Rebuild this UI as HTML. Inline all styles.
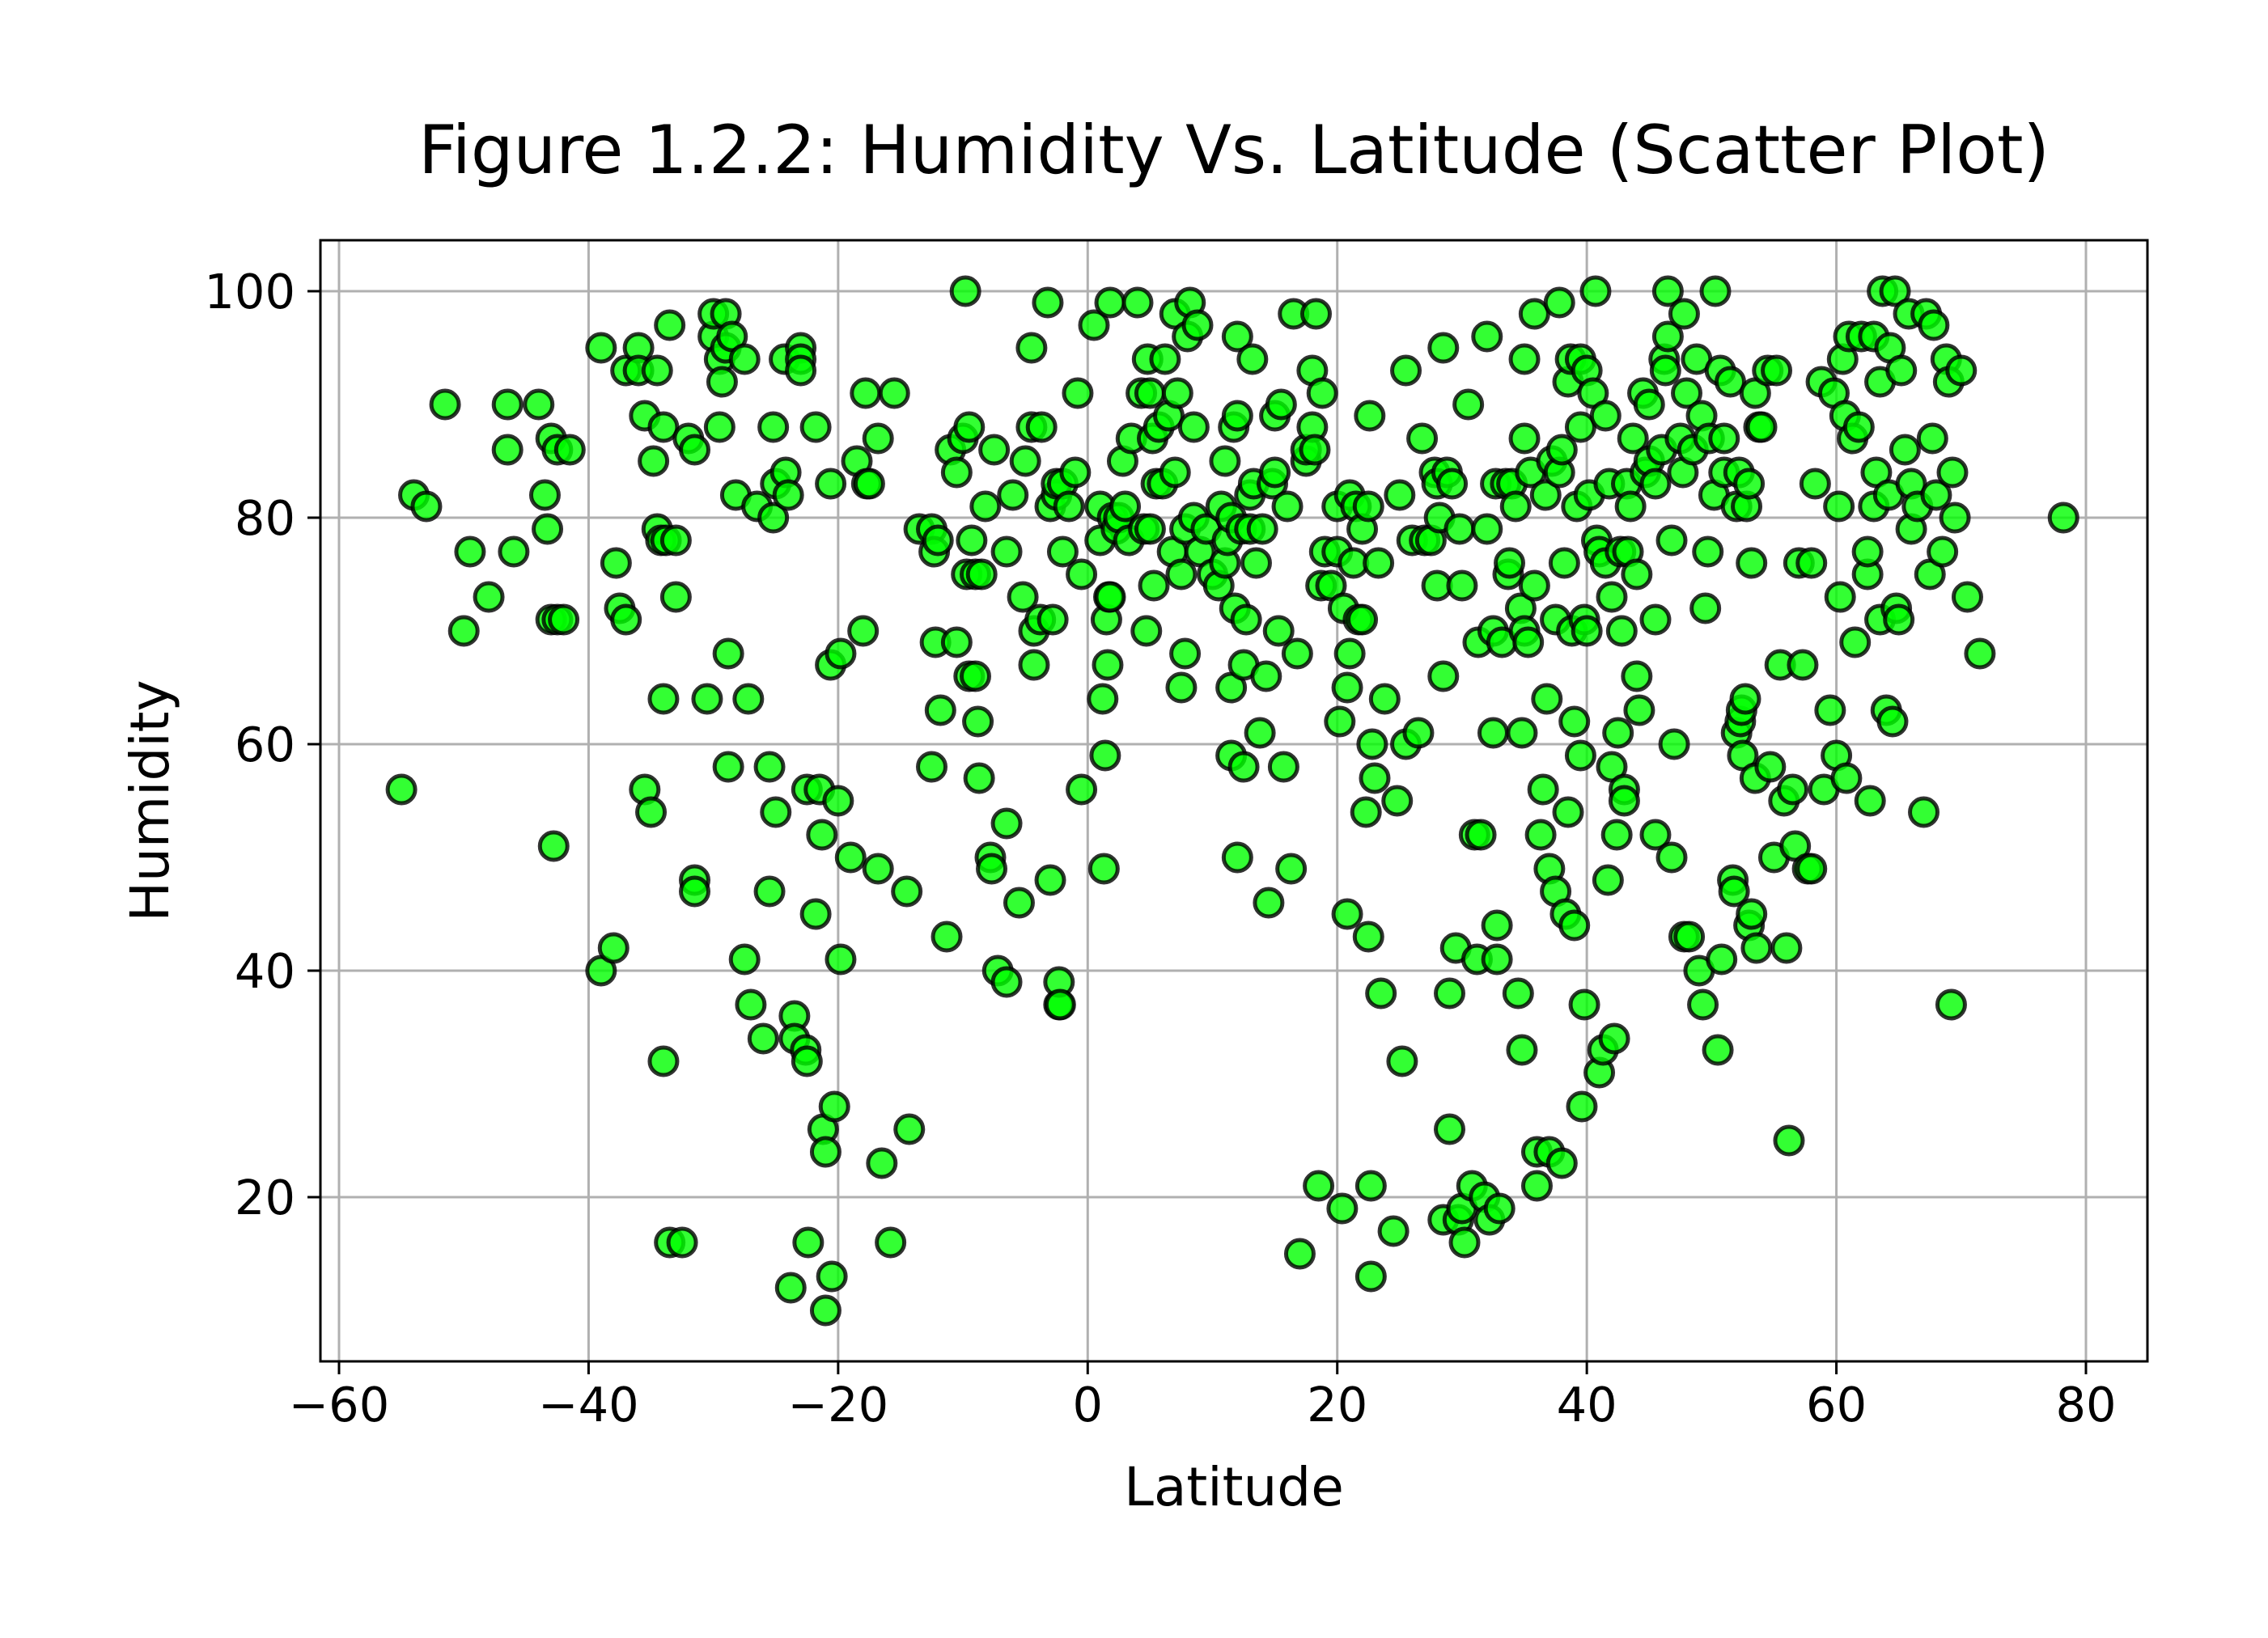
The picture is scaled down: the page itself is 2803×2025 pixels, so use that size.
<!DOCTYPE html>
<html><head><meta charset="utf-8">
<style>
html,body{margin:0;padding:0;background:#fff;}
svg{display:block;}
text{font-family:"DejaVu Sans","Liberation Sans",sans-serif;fill:#000;}
</style></head>
<body>
<svg id="chart" width="2803" height="2025" viewBox="0 0 2803 2025" xmlns="http://www.w3.org/2000/svg">
<rect width="2803" height="2025" fill="#fff"/>
<text x="1525" y="214" font-size="83" text-anchor="middle">Figure 1.2.2: Humidity Vs. Latitude (Scatter Plot)</text>
<g id="grid"></g>
<g id="points"></g>
<rect x="396" y="297" width="2258" height="1386" fill="none" stroke="#000" stroke-width="3"/>
<g id="ticks"></g>
<text x="1525" y="1861" font-size="66" text-anchor="middle">Latitude</text>
<text x="208" y="990" font-size="66" text-anchor="middle" transform="rotate(-90 208 990)">Humidity</text>
</svg>
<script>
const xTicks=[-60,-40,-20,0,20,40,60,80];
const yTicks=[20,40,60,80,100];
const lats=[-55,-54,-53,-51.5,-50,-49.5,-48,-46.5,-46.5,-46,-44,-43.5,-43.3,-43,-43,-42.5,-42.5,-42,-42.8,-41.5,-39,-39,-38,-37.8,-37.5,-37,-37,-36,-36,-35.5,-35.5,-35,-34.8,-34.5,-34.5,-34.2,-34,-34,-34,-33.8,-33.5,-33.5,-33,-33,-32.5,-32,-31.5,-31.5,-31.5,-30.5,-30,-30,-29.5,-29.5,-29.3,-29,-29,-28.8,-28.8,-28.5,-28.2,-27.5,-27.5,-27.2,-27,-26.5,-26,-25.5,-25.5,-25.2,-25.2,-25,-25,-24.3,-24.2,-24,-23.8,-23.5,-23.5,-23,-23,-23,-22.6,-22.5,-22.5,-22.4,-21.8,-21.8,-21.5,-21.3,-21.2,-21,-21,-20.6,-20.6,-20.5,-20.3,-20,-19.8,-19.8,-19,-18.5,-18,-17.8,-17.7,-17.5,-16.8,-16.8,-16.5,-15.8,-15.5,-14.5,-14.3,-13.5,-12.5,-12.5,-12.3,-12.2,-12,-11.8,-11.3,-11,-10.5,-10.5,-10,-9.8,-9.7,-9.5,-9.5,-9.3,-9,-9,-8.8,-8.7,-8.5,-8.2,-7.8,-7.7,-7.5,-7.2,-6.5,-6.5,-6.5,-6,-5.5,-5.2,-5,-4.5,-4.5,-4.3,-4.3,-3.8,-3.7,-3.2,-3,-3,-2.8,-2.5,-2.5,-2.3,-2.3,-2.2,-2,-2,-1.5,-1,-0.8,-0.5,-0.5,0.5,1,1,1.2,1.3,1.4,1.5,1.6,1.7,1.8,1.8,2,2.3,2.5,2.8,3,3.3,3.5,4,4.3,4.5,4.7,4.8,5,5,5.2,5.3,5.5,5.7,6,6.2,6.5,6.8,7,7,7.2,7.5,7.5,7.8,7.8,8,8.2,8.5,8.5,8.8,9,9.5,10,10.5,10.7,11,11,11.2,11.5,11.5,11.5,11.7,11.8,12,12,12,12.3,12.5,12.5,12.7,13,13,13.2,13.3,13.5,13.8,14,14.3,14.5,14.8,15,15,15.3,15.5,15.7,16,16.3,16.5,16.8,17,17.5,17.5,18,18,18.2,18.3,18.5,18.7,18.8,19,19.5,20,20,20.2,20.4,20.5,20.8,20.8,21,21,21.3,21.5,21.7,22,22,22.3,22.5,22.5,22.6,22.7,22.7,22.8,23,23.3,23.5,23.8,24.5,24.8,25,25.2,25.5,25.5,26,26.5,26.8,27,27.5,27.8,28,28,28.2,28.5,28.5,28.5,28.8,29,29,29.2,29.5,29.7,29.8,30,30,30.2,30.5,30.8,31,31.2,31.3,31.5,31.8,32,32,32.2,32.5,32.5,32.7,32.8,32.8,33,33.2,33.5,33.7,33.8,34,34.3,34.5,34.7,34.8,34.8,35,35,35,35.3,35.5,35.8,35.8,36,36,36.3,36.5,36.7,36.8,37,37,37.2,37.5,37.5,37.8,37.8,38,38,38.2,38.3,38.5,38.5,38.7,38.8,39,39,39.2,39.5,39.5,39.5,39.6,39.8,39.8,40,40,40.2,40.5,40.7,40.8,41,41,41.3,41.5,41.5,41.7,41.8,42,42,42.2,42.4,42.5,42.7,42.8,43,43,43.2,43.3,43.5,43.7,44,44,44.2,44.5,44.7,45,45,45.5,45.5,45.5,46,46.2,46.3,46.5,46.5,46.8,46.8,47,47.5,47.7,47.8,47.8,48,48.2,48.5,48.8,49,49.2,49.3,49.5,49.7,49.8,50.2,50.3,50.5,50.7,50.8,51,51,51.5,51.7,51.8,52,52,52.2,52.3,52.4,52.5,52.7,52.8,53,53,53.2,53.2,53.5,53.5,53.6,53.8,54,54.5,54.7,55,55.2,55.5,55.8,56,56.2,56.5,56.7,57,57.3,57.7,58,58,58.3,58.8,59,59.5,59.8,60,60.2,60.3,60.5,60.7,60.8,61,61.3,61.5,61.8,62,62.5,62.5,62.7,63,63,63.2,63.5,63.5,63.7,64,64.2,64.3,64.5,64.7,64.8,65,65.2,65.5,65.8,66,66,66.5,67,67.2,67.5,67.7,67.8,68,68.5,68.8,69,69.2,69.3,69.5,70,70.5,71.5,78.2];
const humidity=[56,82,81,90,70,77,73,90,86,77,90,82,79,87,71,71,86,71,51,86,95,40,42,76,72,71,93,95,93,89,56,54,85,79,93,78,88,64,32,78,97,16,78,73,16,87,86,48,47,64,96,98,94,88,92,98,95,58,68,96,82,94,41,64,37,81,34,58,47,80,88,83,54,94,84,82,12,36,34,95,94,93,33,56,32,16,88,45,56,52,26,24,10,83,67,13,28,55,41,68,50,85,70,91,83,83,87,49,23,16,91,47,26,79,79,58,77,69,78,63,43,86,69,84,87,100,75,88,66,78,66,75,62,57,75,81,50,49,86,40,53,39,77,82,46,73,85,88,95,67,70,71,88,99,81,48,71,82,83,37,39,37,83,77,81,84,91,56,75,97,81,78,64,49,59,71,67,73,73,99,80,79,80,85,81,78,87,99,91,79,70,94,91,79,87,74,83,88,83,94,89,77,98,84,91,75,65,79,68,96,99,80,88,97,77,79,75,74,81,85,76,78,59,65,80,88,72,96,89,50,79,67,58,71,82,79,94,83,76,61,79,66,46,83,84,89,70,90,58,81,49,98,68,15,85,86,93,88,86,98,21,74,91,77,74,81,77,62,19,72,65,45,82,68,76,81,71,79,71,54,81,43,89,13,21,60,57,76,38,64,17,55,82,32,93,60,78,61,87,78,78,84,74,83,80,66,95,18,84,26,38,83,42,18,79,19,74,16,90,21,52,41,69,52,20,96,79,18,61,70,83,41,44,19,69,83,75,76,83,81,38,72,61,33,94,70,87,69,84,98,74,21,24,52,56,82,64,49,24,85,47,71,99,84,86,23,76,45,92,54,94,70,44,62,81,88,59,94,28,37,71,93,70,82,91,100,78,31,77,33,89,76,48,83,73,58,34,52,61,77,70,56,55,83,77,81,87,75,66,63,91,84,85,90,71,83,52,86,94,93,100,96,78,50,60,87,84,43,98,91,43,86,94,40,89,37,72,77,87,82,100,33,93,41,87,84,92,48,47,61,81,84,62,63,59,64,81,83,44,76,45,91,57,42,88,88,93,58,50,93,67,55,42,25,56,51,76,67,49,49,76,83,92,56,63,91,59,81,73,94,89,57,96,87,69,88,96,75,77,55,81,96,84,71,92,100,63,82,95,62,100,72,71,93,86,98,79,83,81,54,98,75,87,97,82,77,94,92,37,84,80,93,73,68,80];
const X0=419,X1=2578,XV0=-60,XV1=80;
const Y0=360,Y1=1480,YV0=100,YV1=20;
function sx(v){return X0+(v-XV0)*(X1-X0)/(XV1-XV0);}
function sy(v){return Y0+(v-YV0)*(Y1-Y0)/(YV1-YV0);}
const NS="http://www.w3.org/2000/svg";
const grid=document.getElementById('grid'),ticks=document.getElementById('ticks'),pts=document.getElementById('points');
function mk(tag,attrs,parent){const e=document.createElementNS(NS,tag);for(const k in attrs)e.setAttribute(k,attrs[k]);parent.appendChild(e);return e;}
xTicks.forEach(t=>{
  const x=sx(t);
  const g=mk('line',{x1:x,x2:x,y1:297,y2:1683,stroke:'#b0b0b0','stroke-width':3},grid);
  
  
  const tk=mk('line',{x1:x,x2:x,y1:1683,y2:1699,stroke:'#000','stroke-width':3},ticks);
  
  
  const lb=mk('text',{x:x,y:1757,'font-size':59,'text-anchor':'middle'},ticks);
  lb.textContent=(t<0?'\u2212'+Math.abs(t):String(t));
  
  
});
yTicks.forEach(t=>{
  const y=sy(t);
  const g=mk('line',{x1:396,x2:2654,y1:y,y2:y,stroke:'#b0b0b0','stroke-width':3},grid);
  
  
  const tk=mk('line',{x1:380,x2:396,y1:y,y2:y,stroke:'#000','stroke-width':3},ticks);
  
  
  const lb=mk('text',{x:365,y:y+21,'font-size':59,'text-anchor':'end'},ticks);
  lb.textContent=String(t);
  
  
});
lats.forEach((la,i)=>{
  const c=mk('circle',{cx:sx(la),cy:sy(humidity[i]),r:17,fill:'#00ff00','fill-opacity':0.8,stroke:'#000','stroke-opacity':0.8,'stroke-width':5},pts);
  
  
});
</script>
</body></html>
